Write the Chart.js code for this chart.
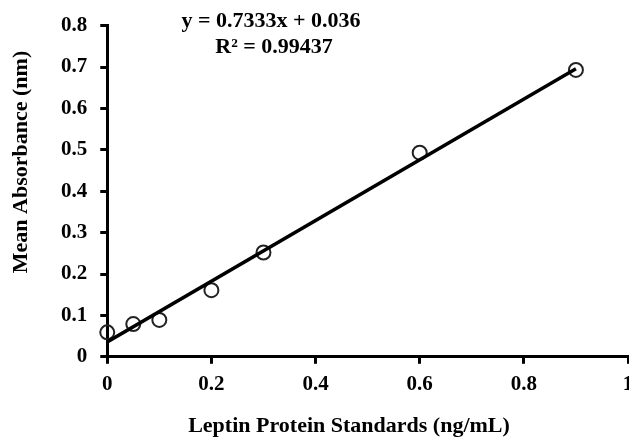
<!DOCTYPE html>
<html>
<head>
<meta charset="utf-8">
<script src="https://cdn.jsdelivr.net/npm/chart.js@4"></script>
<style>
  html, body { margin: 0; padding: 0; background: #fff; overflow: hidden; }
  /* a little wider than the window so the axis runs to the right edge and "1" gets cut like in the original */
  #wrap { width: 637px; height: 437px; }
</style>
</head>
<body>
<div id="wrap"><canvas id="leptin"></canvas></div>
<script>
// standard concentrations (ng/mL) and mean absorbance
const concentrations = [0, 0.05, 0.1, 0.2, 0.3, 0.6, 0.9];
const absorbance = [0.059, 0.079, 0.089, 0.161, 0.252, 0.493, 0.693];

// linear fit shown on the plot
const slope = 0.7333;
const intercept = 0.036;
const fitRange = [0, 0.9];

const xTicks = [0, 0.2, 0.4, 0.6, 0.8, 1];
const yTicks = [0, 0.1, 0.2, 0.3, 0.4, 0.5, 0.6, 0.7, 0.8];

const eqLines = ['y = 0.7333x + 0.036', 'R\u00b2 = 0.99437'];
const xTitle = 'Leptin Protein Standards (ng/mL)';
const yTitle = 'Mean Absorbance (nm)';

const serif = '"Liberation Serif", "Times New Roman", serif';

// equation and axis titles (the titles sit off-centre in the original, so they are drawn here)
const textLabels = {
  id: 'textLabels',
  afterDraw(chart) {
    const ctx = chart.ctx;
    ctx.save();
    ctx.fillStyle = '#000';
    ctx.font = 'bold 22px ' + serif;
    ctx.textAlign = 'center';
    ctx.textBaseline = 'middle';
    ctx.fillText(eqLines[0], 271, 21);
    ctx.fillText(eqLines[1], 274, 47);
    ctx.fillText(xTitle, 349, 426);

    ctx.translate(27, 162);
    ctx.rotate(-Math.PI / 2);
    ctx.textBaseline = 'alphabetic';
    ctx.fillText(yTitle, 0, 0);
    ctx.restore();
  }
};

const fitPoints = fitRange.map(x => ({ x: x, y: slope * x + intercept }));
const standards = concentrations.map((x, i) => ({ x: x, y: absorbance[i] }));

new Chart(document.querySelector('#leptin'), {
  type: 'scatter',
  plugins: [textLabels],
  data: {
    datasets: [{
      label: 'Linear fit',
      data: fitPoints,
      showLine: true,
      borderColor: '#000',
      borderWidth: 3.5,
      pointRadius: 0,
      order: 1
    }, {
      label: 'Standards',
      data: standards,
      clip: false,
      pointRadius: 7,
      pointBorderWidth: 2,
      pointBorderColor: '#222',
      pointBackgroundColor: 'rgba(255,255,255,0)',
      order: 2
    }]
  },
  options: {
    responsive: true,
    maintainAspectRatio: false,
    animation: false,
    layout: {
      padding: { top: 24, left: 48, right: 0, bottom: 32 }
    },
    scales: {
      x: {
        type: 'linear',
        min: 0,
        max: 1,
        afterBuildTicks: scale => { scale.ticks = xTicks.map(v => ({ value: v })); },
        afterFit: scale => { scale.paddingRight = 0; },
        border: { display: true, color: '#000', width: 3 },
        grid: {
          display: true,
          drawOnChartArea: false,
          color: 'transparent',
          tickLength: 7,
          tickWidth: 3,
          tickColor: '#000'
        },
        ticks: {
          color: '#000',
          padding: 8,
          maxRotation: 0,
          callback: v => String(v),
          font: { family: serif, size: 21, weight: 'bold' }
        }
      },
      y: {
        type: 'linear',
        min: 0,
        max: 0.8,
        afterBuildTicks: scale => { scale.ticks = yTicks.map(v => ({ value: v })); },
        border: { display: true, color: '#000', width: 3 },
        grid: {
          display: true,
          drawOnChartArea: false,
          color: 'transparent',
          tickLength: 7,
          tickWidth: 3,
          tickColor: '#000'
        },
        ticks: {
          color: '#000',
          padding: 13,
          callback: v => String(v),
          font: { family: serif, size: 21, weight: 'bold' }
        }
      }
    },
    plugins: {
      legend: { display: false },
      tooltip: { enabled: false }
    }
  }
});
</script>
</body>
</html>
